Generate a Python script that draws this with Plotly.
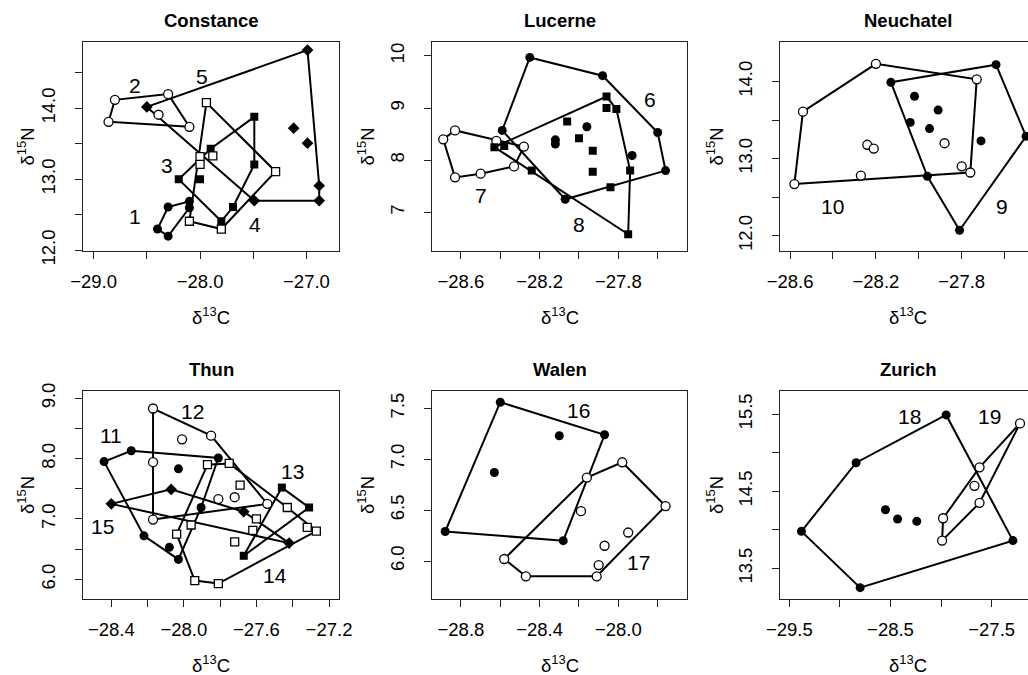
import plotly.graph_objects as go

FONT = "Liberation Sans, Arial, Helvetica, sans-serif"

# ---------------- data (delta13C, delta15N) ----------------
# Constance
G1_C13 = [-28.40, -28.30, -28.10, -28.10, -28.30]
G1_N15 = [12.30, 12.61, 12.69, 12.60, 12.20]
G2_C13 = [-28.80, -28.30, -28.10, -28.86, -28.39]
G2_N15 = [14.12, 14.20, 13.74, 13.81, 13.91]
G3_C13 = [-28.20, -28.00, -27.90, -27.49, -27.49, -27.69, -27.80]
G3_N15 = [13.00, 13.00, 13.43, 13.88, 13.21, 12.61, 12.41]
G4_C13 = [-27.94, -27.29, -27.80, -28.10, -28.00, -28.00, -27.88]
G4_N15 = [14.08, 13.11, 12.30, 12.41, 13.32, 13.21, 13.33]
G5_C13 = [-28.50, -26.99, -26.88, -26.88, -27.49, -27.12, -26.99]
G5_N15 = [14.02, 14.82, 12.91, 12.70, 12.70, 13.72, 13.51]
# Lucerne
G6_C13 = [-28.25, -27.88, -27.60, -27.56, -28.07, -28.39, -28.12, -28.12, -27.96, -27.73]
G6_N15 = [9.97, 9.62, 8.53, 7.80, 7.25, 8.57, 8.39, 8.31, 8.64, 8.09]
G7_C13 = [-28.69, -28.63, -28.42, -28.28, -28.33, -28.50, -28.63]
G7_N15 = [8.40, 8.57, 8.37, 8.26, 7.88, 7.74, 7.67]
G8_C13 = [-28.43, -28.38, -28.24, -27.86, -27.86, -27.81, -27.74, -27.84, -27.75,
          -28.06, -28.00, -27.93, -27.93]
G8_N15 = [8.25, 8.27, 7.80, 9.22, 9.00, 8.98, 7.80, 7.48, 6.58, 8.74, 8.42, 8.18, 7.78]
# Neuchatel
G9_C13 = [-28.13, -27.64, -27.50, -27.81, -27.96, -28.02, -27.91, -28.04, -27.95, -27.71]
G9_N15 = [13.99, 14.22, 13.29, 12.07, 12.77, 13.81, 13.63, 13.47, 13.39, 13.23]
G10_C13 = [-28.58, -28.54, -28.20, -27.73, -27.76, -27.80, -28.27, -28.24, -28.21, -27.88]
G10_N15 = [12.67, 13.61, 14.23, 14.03, 12.82, 12.90, 12.78, 13.18, 13.13, 13.20]
# Thun
G11_C13 = [-28.44, -28.29, -27.81, -28.03, -27.905, -28.22, -28.08, -28.03]
G11_N15 = [7.95, 8.13, 8.01, 7.83, 7.19, 6.72, 6.53, 6.33]
G12_C13 = [-28.17, -27.85, -27.54, -28.17, -28.17, -28.01, -27.81, -27.72]
G12_N15 = [8.83, 8.38, 7.25, 6.99, 7.94, 8.32, 7.33, 7.36]
G13_C13 = [-27.46, -27.31, -27.67]
G13_N15 = [7.52, 7.19, 6.39]
G14_C13 = [-27.87, -27.75, -27.69, -27.43, -27.60, -27.62, -27.72, -27.32, -27.27,
           -27.81, -27.94, -27.96, -28.04]
G14_N15 = [7.90, 7.92, 7.56, 7.19, 7.00, 6.81, 6.62, 6.86, 6.80, 5.93, 5.98, 6.90, 6.75]
G15_C13 = [-28.40, -28.07, -27.67, -27.42]
G15_N15 = [7.25, 7.49, 7.12, 6.60]
# Walen
G16_C13 = [-28.60, -28.07, -28.28, -28.88, -28.63, -28.30]
G16_N15 = [7.56, 7.24, 6.20, 6.29, 6.87, 7.23]
G17_C13 = [-28.16, -27.98, -27.76, -28.11, -28.47, -28.58, -28.19, -28.07, -27.95, -28.10]
G17_N15 = [6.82, 6.97, 6.54, 5.85, 5.85, 6.02, 6.49, 6.15, 6.28, 5.96]
# Zurich
G18_C13 = [-27.95, -28.84, -29.38, -28.80, -27.29, -28.55, -28.43, -28.24]
G18_N15 = [15.49, 14.87, 13.98, 13.25, 13.86, 14.26, 14.14, 14.11]
G19_C13 = [-27.22, -27.62, -27.67, -27.62, -27.98, -27.99]
G19_N15 = [15.38, 14.81, 14.57, 14.35, 14.15, 13.86]

# group number labels (text, d13C, d15N)
CONSTANCE_LABELS = [("1", -28.61, 12.48), ("2", -28.61, 14.32), ("3", -28.31, 13.20),
                    ("4", -27.48, 12.36), ("5", -27.98, 14.45)]
LUCERNE_LABELS = [("6", -27.64, 9.17), ("7", -28.50, 7.33), ("8", -28.00, 6.76)]
NEUCHATEL_LABELS = [("10", -28.40, 12.38), ("9", -27.61, 12.38)]
THUN_LABELS = [("11", -28.40, 8.38), ("12", -27.95, 8.78), ("13", -27.40, 7.78),
               ("14", -27.50, 6.07), ("15", -28.45, 6.88)]
WALEN_LABELS = [("16", -28.20, 7.48), ("17", -27.90, 5.99)]
ZURICH_LABELS = [("18", -28.31, 15.47), ("19", -27.52, 15.47)]

# ticks: labelled (major) and unlabelled (minor)
M = "\u2212"
CONSTANCE_XT = [-29.0, -28.0, -27.0]
CONSTANCE_XL = [M + "29.0", M + "28.0", M + "27.0"]
CONSTANCE_XM = [-28.5, -27.5]
CONSTANCE_YT = [12.0, 13.0, 14.0]
CONSTANCE_YL = ["12.0", "13.0", "14.0"]
CONSTANCE_YM = [12.5, 13.5, 14.5]
LUCERNE_XT = [-28.6, -28.2, -27.8]
LUCERNE_XL = [M + "28.6", M + "28.2", M + "27.8"]
LUCERNE_XM = [-28.4, -28.0, -27.6]
LUCERNE_YT = [7, 8, 9, 10]
LUCERNE_YL = ["7", "8", "9", "10"]
LUCERNE_YM = []
NEUCHATEL_XT = [-28.6, -28.2, -27.8]
NEUCHATEL_XL = [M + "28.6", M + "28.2", M + "27.8"]
NEUCHATEL_XM = [-28.4, -28.0, -27.6]
NEUCHATEL_YT = [12.0, 13.0, 14.0]
NEUCHATEL_YL = ["12.0", "13.0", "14.0"]
NEUCHATEL_YM = [12.5, 13.5]
THUN_XT = [-28.4, -28.0, -27.6, -27.2]
THUN_XL = [M + "28.4", M + "28.0", M + "27.6", M + "27.2"]
THUN_XM = [-28.2, -27.8, -27.4]
THUN_YT = [6.0, 7.0, 8.0, 9.0]
THUN_YL = ["6.0", "7.0", "8.0", "9.0"]
THUN_YM = [6.5, 7.5, 8.5]
WALEN_XT = [-28.8, -28.4, -28.0]
WALEN_XL = [M + "28.8", M + "28.4", M + "28.0"]
WALEN_XM = [-28.6, -28.2, -27.8]
WALEN_YT = [6.0, 6.5, 7.0, 7.5]
WALEN_YL = ["6.0", "6.5", "7.0", "7.5"]
WALEN_YM = []
ZURICH_XT = [-29.5, -28.5, -27.5]
ZURICH_XL = [M + "29.5", M + "28.5", M + "27.5"]
ZURICH_XM = [-29.0, -28.0]
ZURICH_YT = [13.5, 14.5, 15.5]
ZURICH_YL = ["13.5", "14.5", "15.5"]
ZURICH_YM = [14.0, 15.0]

# ---------------- styles / layout ----------------
STYLE = {
    "fc": dict(symbol="circle", size=9, color="black", line=dict(width=0)),
    "oc": dict(symbol="circle", size=9, color="white", line=dict(color="black", width=1.3)),
    "fs": dict(symbol="square", size=8, color="black", line=dict(width=0)),
    "os": dict(symbol="square", size=8, color="white", line=dict(color="black", width=1.3)),
    "fd": dict(symbol="diamond", size=9, color="black", line=dict(width=0)),
}

W, H = 1028, 675
COLS = [(83, 339), (432, 687), (780, 1028)]
ROWS = [(42.3, 250.7), (391, 599)]

PANELS = [
    dict(title="Constance", col=0, row=0, xr=[-29.10, -26.694], yr=[11.995, 14.93],
         xt=(CONSTANCE_XT, CONSTANCE_XL, CONSTANCE_XM),
         yt=(CONSTANCE_YT, CONSTANCE_YL, CONSTANCE_YM),
         groups=[(G1_C13, G1_N15, "fc"), (G2_C13, G2_N15, "oc"), (G3_C13, G3_N15, "fs"),
                 (G4_C13, G4_N15, "os"), (G5_C13, G5_N15, "fd")],
         labels=CONSTANCE_LABELS, ylab_x=26),
    dict(title="Lucerne", col=1, row=0, xr=[-28.747, -27.451], yr=[6.264, 10.26],
         xt=(LUCERNE_XT, LUCERNE_XL, LUCERNE_XM), yt=(LUCERNE_YT, LUCERNE_YL, LUCERNE_YM),
         groups=[(G6_C13, G6_N15, "fc"), (G7_C13, G7_N15, "oc"), (G8_C13, G8_N15, "fs")],
         labels=LUCERNE_LABELS, ylab_x=366),
    dict(title="Neuchatel", col=2, row=0, xr=[-28.647, -27.491], yr=[11.805, 14.51],
         xt=(NEUCHATEL_XT, NEUCHATEL_XL, NEUCHATEL_XM),
         yt=(NEUCHATEL_YT, NEUCHATEL_YL, NEUCHATEL_YM),
         groups=[(G9_C13, G9_N15, "fc"), (G10_C13, G10_N15, "oc")],
         labels=NEUCHATEL_LABELS, ylab_x=715),
    dict(title="Thun", col=0, row=1, xr=[-28.556, -27.145], yr=[5.674, 9.12],
         xt=(THUN_XT, THUN_XL, THUN_XM), yt=(THUN_YT, THUN_YL, THUN_YM),
         groups=[(G11_C13, G11_N15, "fc"), (G12_C13, G12_N15, "oc"), (G13_C13, G13_N15, "fs"),
                 (G14_C13, G14_N15, "os"), (G15_C13, G15_N15, "fd")],
         labels=THUN_LABELS, ylab_x=26),
    dict(title="Walen", col=1, row=1, xr=[-28.947, -27.651], yr=[5.627, 7.67],
         xt=(WALEN_XT, WALEN_XL, WALEN_XM), yt=(WALEN_YT, WALEN_YL, WALEN_YM),
         groups=[(G16_C13, G16_N15, "fc"), (G17_C13, G17_N15, "oc")],
         labels=WALEN_LABELS, ylab_x=366),
    dict(title="Zurich", col=2, row=1, xr=[-29.592, -27.141], yr=[13.103, 15.80],
         xt=(ZURICH_XT, ZURICH_XL, ZURICH_XM), yt=(ZURICH_YT, ZURICH_YL, ZURICH_YM),
         groups=[(G18_C13, G18_N15, "fc"), (G19_C13, G19_N15, "oc")],
         labels=ZURICH_LABELS, ylab_x=715),
]


def hull(xs, ys):
    pts = sorted(set(zip(xs, ys)))
    if len(pts) <= 2:
        return pts

    def cross(o, a, b):
        return (a[0] - o[0]) * (b[1] - o[1]) - (a[1] - o[1]) * (b[0] - o[0])

    lower = []
    for p in pts:
        while len(lower) >= 2 and cross(lower[-2], lower[-1], p) <= 0:
            lower.pop()
        lower.append(p)
    upper = []
    for p in reversed(pts):
        while len(upper) >= 2 and cross(upper[-2], upper[-1], p) <= 0:
            upper.pop()
        upper.append(p)
    return lower[:-1] + upper[:-1]


fig = go.Figure()
annotations = []
AXC = "#222"
TFONT = dict(family=FONT, size=18.5, color="black")

for i, p in enumerate(PANELS, start=1):
    xa = "x" if i == 1 else f"x{i}"
    ya = "y" if i == 1 else f"y{i}"
    x0, x1 = COLS[p["col"]]
    t0, t1 = ROWS[p["row"]]
    xdom = [x0 / W, min(x1 / W, 1.0)]
    ydom = [1 - t1 / H, 1 - t0 / H]
    right_col = p["col"] == 2

    for xs, ys, st in p["groups"]:
        h = hull(xs, ys)
        hx = [q[0] for q in h] + [h[0][0]]
        hy = [q[1] for q in h] + [h[0][1]]
        fig.add_trace(go.Scatter(x=hx, y=hy, mode="lines", xaxis=xa, yaxis=ya,
                                 line=dict(color="black", width=2), hoverinfo="skip",
                                 showlegend=False))
    for xs, ys, st in p["groups"]:
        fig.add_trace(go.Scatter(x=xs, y=ys, mode="markers", xaxis=xa, yaxis=ya,
                                 marker=STYLE[st], showlegend=False))

    axkw = dict(showgrid=False, zeroline=False, showline=True, linecolor=AXC, linewidth=1.3,
                ticks="outside", ticklen=7, tickwidth=1.3, tickcolor=AXC, automargin=False,
                tickfont=TFONT)
    minor_x = dict(tickmode="array", tickvals=p["xt"][2], ticks="outside", ticklen=7,
                   tickwidth=1.3, tickcolor=AXC, showgrid=False)
    minor_y = dict(tickmode="array", tickvals=p["yt"][2], ticks="outside", ticklen=7,
                   tickwidth=1.3, tickcolor=AXC, showgrid=False)
    fig.layout[("xaxis" if i == 1 else f"xaxis{i}")] = dict(
        domain=xdom, range=p["xr"], anchor=ya, tickmode="array",
        tickvals=p["xt"][0], ticktext=p["xt"][1], mirror=True, minor=minor_x,
        ticklabelstandoff=7, **axkw)
    fig.layout[("yaxis" if i == 1 else f"yaxis{i}")] = dict(
        domain=ydom, range=p["yr"], anchor=xa, tickmode="array",
        tickvals=p["yt"][0], ticktext=p["yt"][1], mirror=(not right_col), minor=minor_y,
        tickangle=-90, ticklabelstandoff=12, **axkw)

    cx = (x0 + x1) / 2 if not right_col else (x0 + 1036) / 2
    annotations.append(dict(text="<b>%s</b>" % p["title"], xref="paper", yref="paper",
                            x=cx / W, y=1 - (t0 - 21.5) / H, showarrow=False,
                            xanchor="center", yanchor="middle", font=TFONT))
    annotations.append(dict(text="\u03b4<sup>13</sup>C", xref="paper", yref="paper",
                            x=cx / W, y=1 - (t1 + 65) / H, showarrow=False,
                            xanchor="center", yanchor="middle", font=TFONT))
    annotations.append(dict(text="\u03b4<sup>15</sup>N", xref="paper", yref="paper",
                            x=p["ylab_x"] / W, y=1 - ((t0 + t1) / 2) / H, showarrow=False,
                            textangle=-90, xanchor="center", yanchor="middle", font=TFONT))
    for txt, lx, ly in p["labels"]:
        annotations.append(dict(text=txt, xref=xa, yref=ya, x=lx, y=ly, showarrow=False,
                                xanchor="center", yanchor="middle",
                                font=dict(family=FONT, size=21, color="black")))

fig.update_layout(template="none", width=W, height=H, margin=dict(l=0, r=0, t=0, b=0, pad=0),
                  paper_bgcolor="white", plot_bgcolor="white",
                  annotations=annotations, showlegend=False)

fig.write_html("out.html", config={"displayModeBar": False},
               post_script="document.body.style.margin='0';")
